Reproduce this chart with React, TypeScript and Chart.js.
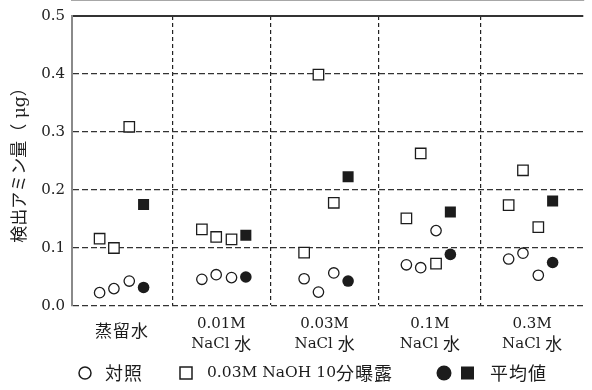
import React, { useEffect, useRef } from 'react';
import { Chart, registerables } from 'chart.js';

Chart.register(...registerables);

// Sample groups (x-axis categories); each entry is one or two label lines
const groupLabels: string[][] = [
  ['蒸留水'],
  ['0.01M', 'NaCl 水'],
  ['0.03M', 'NaCl 水'],
  ['0.1M', 'NaCl 水'],
  ['0.3M', 'NaCl 水'],
];

// Detected amine (µg), three replicates per group
const controlValues: number[][] = [
  [0.023, 0.030, 0.043],
  [0.046, 0.054, 0.049],
  [0.047, 0.024, 0.057],
  [0.071, 0.066, 0.130],
  [0.081, 0.091, 0.053],
];
const naohValues: number[][] = [
  [0.116, 0.100, 0.309],
  [0.132, 0.119, 0.115],
  [0.092, 0.399, 0.178],
  [0.151, 0.263, 0.073],
  [0.174, 0.234, 0.136],
];
// Group means
const controlMeans: number[] = [0.032, 0.050, 0.043, 0.089, 0.075];
const naohMeans: number[] = [0.175, 0.122, 0.223, 0.162, 0.181];

const yTicks: number[] = [0, 0.1, 0.2, 0.3, 0.4, 0.5];

// Group separators on the x scale (0..5) and the slot of each marker inside a group
const groupBounds: number[] = [0, 0.98, 1.94, 3, 4, 5];
const slotOffsets: number[] = [0.27, 0.41, 0.56, 0.70];

const INK = '#1c1c1c';
const SERIF = "'DejaVu Serif'";
const CJK = "'Noto Sans CJK JP'";

const replicatePoints = (values: number[][]) =>
  values.flatMap((row, g) => row.map((v, s) => ({ x: g + slotOffsets[s], y: v })));
const meanPoints = (values: number[]) =>
  values.map((v, g) => ({ x: g + slotOffsets[3], y: v }));

// Split a string into CJK / non-CJK runs so each gets its own font
const CJK_RUN = /[\u3000-\u9fff\uff00-\uffef]+|[^\u3000-\u9fff\uff00-\uffef]+/g;
type Seg = { text: string; font: string; spacing: string };
const runs = (text: string, latinSize: number, cjkSize: number, cjkSpacing = '1px'): Seg[] =>
  (text.match(CJK_RUN) || []).map((t) =>
    /[\u3000-\u9fff\uff00-\uffef]/.test(t)
      ? { text: t, font: `${cjkSize}px ${CJK}`, spacing: cjkSpacing }
      : { text: t, font: `${latinSize}px ${SERIF}`, spacing: '0px' }
  );

const drawSegs = (
  ctx: CanvasRenderingContext2D,
  segs: Seg[],
  x: number,
  y: number,
  align: 'left' | 'center'
) => {
  const widths = segs.map((s) => {
    ctx.font = s.font;
    (ctx as any).letterSpacing = s.spacing;
    return ctx.measureText(s.text).width;
  });
  const total = widths.reduce((a, b) => a + b, 0);
  let cx = align === 'center' ? x - total / 2 : x;
  segs.forEach((s, i) => {
    ctx.font = s.font;
    (ctx as any).letterSpacing = s.spacing;
    ctx.fillText(s.text, cx, y);
    cx += widths[i];
  });
  (ctx as any).letterSpacing = '0px';
};

const groupLabelPlugin = {
  id: 'groupLabels',
  afterDraw(chart: Chart) {
    const { ctx } = chart;
    const xs = chart.scales.x;
    const base = chart.chartArea.bottom;
    ctx.save();
    ctx.fillStyle = INK;
    ctx.textBaseline = 'middle';
    ctx.textAlign = 'left';
    groupLabels.forEach((lines, g) => {
      const cx = xs.getPixelForValue((groupBounds[g] + groupBounds[g + 1]) / 2);
      if (lines.length === 1) {
        drawSegs(ctx, runs(lines[0], 15, 17, '1px'), cx, base + 25, 'center');
      } else {
        lines.forEach((line, i) => {
          drawSegs(ctx, runs(line, 15, 17, '0px'), cx, base + 18 + i * 20, 'center');
        });
      }
    });
    ctx.restore();
  },
};

const legendPlugin = {
  id: 'markerLegend',
  afterDraw(chart: Chart) {
    const { ctx } = chart;
    const y = 373;
    ctx.save();
    ctx.strokeStyle = INK;
    ctx.fillStyle = INK;
    ctx.lineWidth = 1.5;
    // open circle: control
    ctx.beginPath();
    ctx.arc(85, y, 6, 0, Math.PI * 2);
    ctx.stroke();
    // open square: NaOH exposure
    ctx.strokeRect(180, y - 6, 12, 12);
    // filled circle + filled square: means
    ctx.beginPath();
    ctx.arc(444, y, 7.5, 0, Math.PI * 2);
    ctx.fill();
    ctx.fillRect(461, y - 6.5, 13, 13);

    ctx.textBaseline = 'middle';
    ctx.textAlign = 'left';
    drawSegs(ctx, runs('対照', 15.5, 18, '1px'), 105, y, 'left');
    drawSegs(ctx, runs('0.03M NaOH 10分曝露', 15.5, 18, '1px'), 207, y, 'left');
    drawSegs(ctx, runs('平均値', 15.5, 18, '1px'), 490, y, 'left');
    ctx.restore();
  },
};

export default function App() {
  const canvasRef = useRef<HTMLCanvasElement | null>(null);

  useEffect(() => {
    document.body.style.margin = '0';
    const canvas = canvasRef.current;
    if (!canvas) return;

    const chart = new Chart(canvas, {
      type: 'scatter',
      data: {
        datasets: [
          {
            label: '対照',
            data: replicatePoints(controlValues),
            pointStyle: 'circle',
            pointRadius: 5.2,
            pointBorderWidth: 1.3,
            borderColor: INK,
            backgroundColor: '#ffffff',
          },
          {
            label: '0.03M NaOH 10分曝露',
            data: replicatePoints(naohValues),
            pointStyle: 'rect',
            pointRadius: 7.4,
            pointBorderWidth: 1.3,
            borderColor: INK,
            backgroundColor: '#ffffff',
          },
          {
            label: '平均値（対照）',
            data: meanPoints(controlMeans),
            pointStyle: 'circle',
            pointRadius: 5.8,
            pointBorderWidth: 0,
            borderColor: INK,
            backgroundColor: INK,
          },
          {
            label: '平均値（曝露）',
            data: meanPoints(naohMeans),
            pointStyle: 'rect',
            pointRadius: 7.8,
            pointBorderWidth: 0,
            borderColor: INK,
            backgroundColor: INK,
          },
        ],
      },
      options: {
        responsive: false,
        animation: false,
        layout: { padding: { left: 0, right: 0, top: 15, bottom: 0 } },
        plugins: {
          legend: { display: false },
          tooltip: { enabled: false },
        },
        scales: {
          x: {
            type: 'linear',
            min: 0,
            max: 5,
            afterBuildTicks: (s: any) => {
              s.ticks = groupBounds.slice(1, -1).map((v) => ({ value: v }));
            },
            ticks: { display: false },
            grid: { color: '#222', lineWidth: 1.2, drawTicks: false },
            border: { display: true, color: '#8a8a8a', width: 1.6, dash: [4, 3], z: -2 },
            afterFit: (s: any) => {
              s.height = 84;
            },
          },
          y: {
            min: 0,
            max: 0.5,
            afterBuildTicks: (s: any) => {
              s.ticks = yTicks.map((v) => ({ value: v }));
            },
            ticks: {
              callback: (v: any) => Number(v).toFixed(1),
              font: { family: SERIF, size: 15 },
              color: '#222',
              padding: 7,
            },
            grid: {
              color: (c: any) => (c.tick && c.tick.value === 0.5 ? '#333' : '#333'),
              lineWidth: (c: any) => (c.tick && c.tick.value === 0.5 ? 2 : 1.2),
              drawTicks: false,
            },
            border: {
              color: '#8a8a8a',
              width: 2,
              dash: (c: any) => (c.tick && c.tick.value === 0.5 ? [] : [6, 3]),
            },
            title: {
              display: true,
              text: '検出アミン量（ μg）',
              font: { family: `${SERIF}, ${CJK}`, size: 17 },
              color: INK,
              padding: { top: 10, bottom: 0 },
            },
            afterFit: (s: any) => {
              s.width = 72;
            },
          },
        },
      },
      plugins: [groupLabelPlugin, legendPlugin],
    });

    return () => chart.destroy();
  }, []);

  return (
    <div style={{ width: 592, height: 390 }}>
      <canvas ref={canvasRef} width={592} height={390} />
    </div>
  );
}
